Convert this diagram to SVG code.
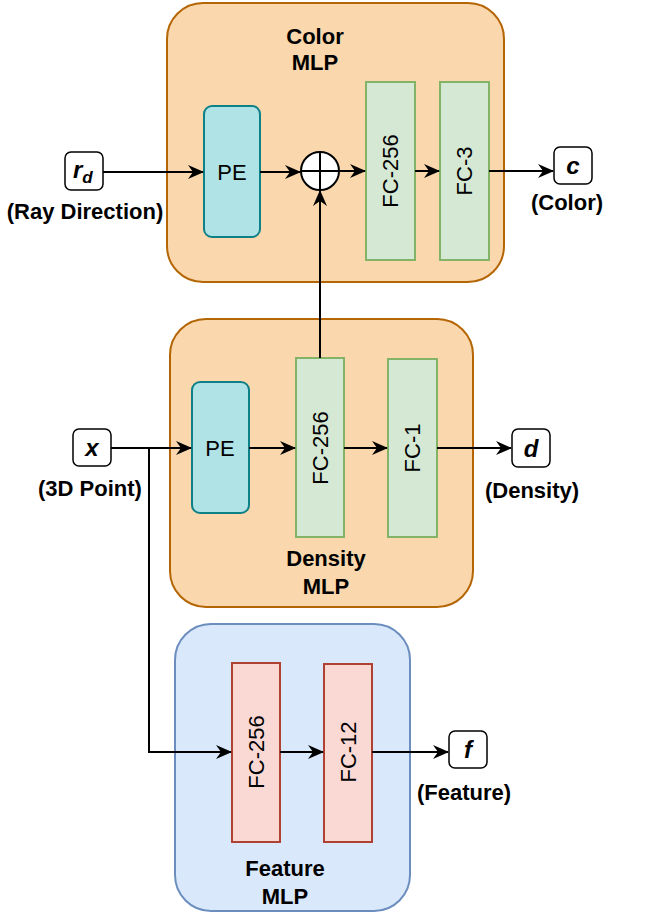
<svg xmlns="http://www.w3.org/2000/svg" width="654" height="920" viewBox="0 0 654 920">
<defs>
<marker id="ah" viewBox="0 0 16 14" refX="15" refY="7" markerWidth="16" markerHeight="14" markerUnits="userSpaceOnUse" orient="auto">
<path d="M0,0 L16,7 L0,14 L5,7 Z" fill="#000"/>
</marker>
<style>
.mlpO{fill:#fad7ac;stroke:#b46504;stroke-width:2}
.mlpB{fill:#dae8fc;stroke:#6c8ebf;stroke-width:2}
.pe{fill:#b0e3e6;stroke:#0e8088;stroke-width:2}
.fcg{fill:#d5e8d4;stroke:#82b366;stroke-width:2}
.fcr{fill:#fad9d5;stroke:#ae4132;stroke-width:2}
.io{fill:#fff;stroke:#000;stroke-width:1.5}
text{font-family:"Liberation Sans",Arial,sans-serif;fill:#000}
.t{font-size:22px;text-anchor:middle}
.b{font-size:22px;font-weight:bold;text-anchor:middle}
.v{font-size:24px;font-weight:bold;font-style:italic;text-anchor:middle}
.c{fill:none;stroke:#000;stroke-width:2}
</style>
</defs>
<g id="color-mlp">
<rect class="mlpO" x="167" y="3" width="337" height="279" rx="36"/>
<text class="b" x="315" y="44">Color</text>
<text class="b" x="315" y="70">MLP</text>
</g>
<g id="density-mlp">
<rect class="mlpO" x="170" y="319" width="303" height="288" rx="36"/>
<text class="b" x="326" y="566">Density</text>
<text class="b" x="326" y="594">MLP</text>
</g>
<g id="feature-mlp">
<rect class="mlpB" x="175" y="624" width="235" height="287" rx="36"/>
<text class="b" x="285" y="876">Feature</text>
<text class="b" x="285" y="904">MLP</text>
</g>
<g id="pe-color">
<rect class="pe" x="204" y="106" width="56" height="131" rx="8"/>
<text class="t" x="232" y="180">PE</text>
</g>
<g id="sum">
<circle cx="320" cy="171" r="19" fill="#fff" stroke="#000" stroke-width="2"/>
<path d="M301,171 H339 M320,152 V190" stroke="#000" stroke-width="2"/>
</g>
<g id="fc256-color">
<rect class="fcg" x="366" y="82" width="49" height="178"/>
<text class="t" transform="translate(398,171) rotate(-90)">FC-256</text>
</g>
<g id="fc3">
<rect class="fcg" x="440" y="82" width="49" height="178"/>
<text class="t" transform="translate(472,171) rotate(-90)">FC-3</text>
</g>
<g id="pe-density">
<rect class="pe" x="192" y="382" width="57" height="131" rx="8"/>
<text class="t" x="220" y="456">PE</text>
</g>
<g id="fc256-density">
<rect class="fcg" x="296" y="358" width="48" height="179"/>
<text class="t" transform="translate(328,448) rotate(-90)">FC-256</text>
</g>
<g id="fc1">
<rect class="fcg" x="388" y="359" width="49" height="178"/>
<text class="t" transform="translate(420,448) rotate(-90)">FC-1</text>
</g>
<g id="fc256-feature">
<rect class="fcr" x="232" y="663" width="48" height="179"/>
<text class="t" transform="translate(264,752) rotate(-90)">FC-256</text>
</g>
<g id="fc12">
<rect class="fcr" x="324" y="664" width="48" height="178"/>
<text class="t" transform="translate(356,752) rotate(-90)">FC-12</text>
</g>
<g id="rd">
<rect class="io" x="65" y="152" width="38" height="38" rx="6"/>
<text x="73" y="178" style="font-size:24px;font-weight:bold;font-style:italic">r<tspan font-size="17" dy="5">d</tspan></text>
<text class="b" x="85" y="219">(Ray Direction)</text>
</g>
<g id="c">
<rect class="io" x="554" y="147" width="38" height="37" rx="6"/>
<text class="v" x="573" y="174">c</text>
<text class="b" x="567" y="210">(Color)</text>
</g>
<g id="x">
<rect class="io" x="73" y="429" width="38" height="37" rx="6"/>
<text class="v" x="92" y="456">x</text>
<text class="b" x="90" y="496">(3D Point)</text>
</g>
<g id="d">
<rect class="io" x="512" y="429" width="38" height="38" rx="6"/>
<text class="v" x="531" y="457">d</text>
<text class="b" x="532" y="498">(Density)</text>
</g>
<g id="f">
<rect class="io" x="449" y="731" width="38" height="37" rx="6"/>
<text class="v" x="468" y="758">f</text>
<text class="b" x="464" y="800">(Feature)</text>
</g>
<g id="connectors">
<path class="c" d="M103,172 H203" marker-end="url(#ah)"/>
<path class="c" d="M260,172 H300" marker-end="url(#ah)"/>
<path class="c" d="M339,171 H365" marker-end="url(#ah)"/>
<path class="c" d="M415,171 H439" marker-end="url(#ah)"/>
<path class="c" d="M489,171 H553" marker-end="url(#ah)"/>
<path class="c" d="M320,358 V191" marker-end="url(#ah)"/>
<path class="c" d="M111,448 H191" marker-end="url(#ah)"/>
<path class="c" d="M249,448 H295" marker-end="url(#ah)"/>
<path class="c" d="M344,448 H387" marker-end="url(#ah)"/>
<path class="c" d="M437,448 H511" marker-end="url(#ah)"/>
<path class="c" d="M149,448 V752 H231" marker-end="url(#ah)"/>
<path class="c" d="M280,752 H323" marker-end="url(#ah)"/>
<path class="c" d="M372,752 H448" marker-end="url(#ah)"/>
</g>
</svg>
